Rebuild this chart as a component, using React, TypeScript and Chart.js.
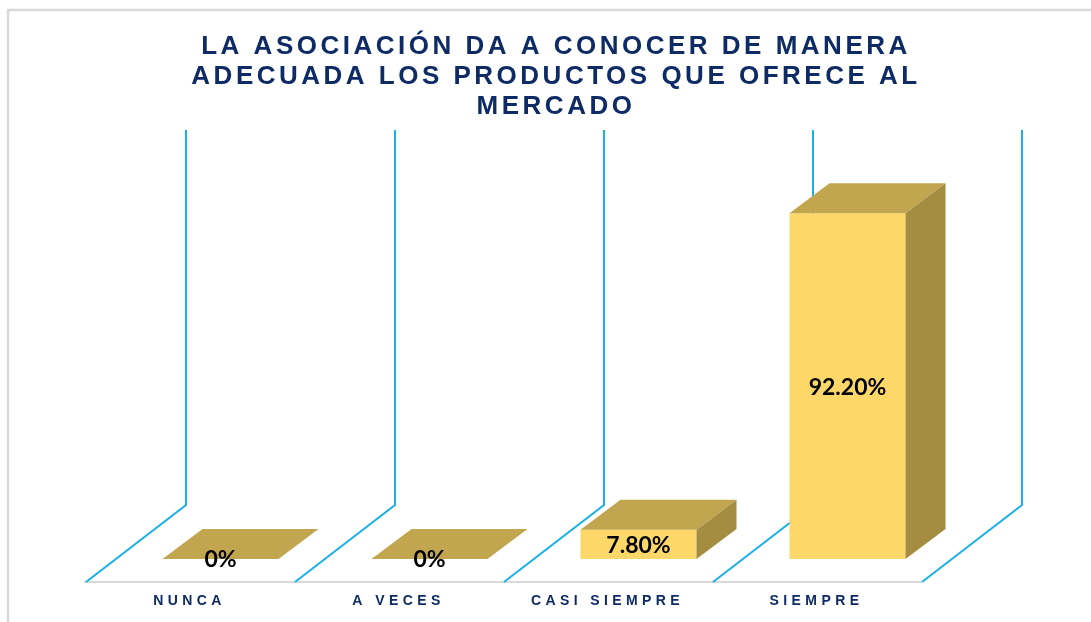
import React, { useEffect, useRef } from "react";
import { Chart, registerables } from "chart.js";

Chart.register(...registerables);

const titleLines = [
  "LA ASOCIACIÓN DA A CONOCER DE MANERA",
  "ADECUADA LOS PRODUCTOS QUE OFRECE AL",
  "MERCADO",
];
const categories = ["NUNCA", "A VECES", "CASI SIEMPRE", "SIEMPRE"];
const values = [0, 0, 7.8, 92.2];
const valueLabels = ["0%", "0%", "7.80%", "92.20%"];

const FRONT = "#FDD868";
const TOP = "#C2A64F";
const SIDE = "#A48C40";
const GRID = "#1AB0EC";
const NAVY = "#0E2B66";

// depth geometry (pixels)
const WALL_DX = 70, WALL_DY = -54; // bar plane -> back wall
const FLOOR_DX = -30, FLOOR_DY = 23; // bar plane -> floor front edge
const BAR_DX = 40, BAR_DY = -30; // bar depth

const threeD = {
  id: "threeD",
  beforeDraw(chart: any) {
    const { ctx, width, height } = chart;
    ctx.save();
    ctx.fillStyle = "#ffffff";
    ctx.fillRect(0, 0, width, height);
    ctx.strokeStyle = "#D9D9D9";
    ctx.lineWidth = 2.5;
    ctx.strokeRect(8, 10, width + 20, height + 20);
    ctx.restore();
  },
  beforeDatasetsDraw(chart: any) {
    const { ctx, chartArea } = chart;
    const n = categories.length;
    const step = (chartArea.right - chartArea.left) / n;
    const base = chartArea.bottom;
    const top = chartArea.top;
    ctx.save();
    ctx.strokeStyle = "#D9D9D9";
    ctx.lineWidth = 2;
    ctx.beginPath();
    ctx.moveTo(chartArea.left + FLOOR_DX - 2, base + FLOOR_DY);
    ctx.lineTo(chartArea.right + FLOOR_DX, base + FLOOR_DY);
    ctx.stroke();
    ctx.strokeStyle = GRID;
    ctx.lineWidth = 2;
    for (let i = 0; i <= n; i++) {
      const ex = chartArea.left + i * step;
      ctx.beginPath();
      ctx.moveTo(ex + WALL_DX, top + WALL_DY);
      ctx.lineTo(ex + WALL_DX, base + WALL_DY);
      ctx.lineTo(ex + FLOOR_DX, base + FLOOR_DY);
      ctx.stroke();
    }
    ctx.restore();
  },
  afterDatasetsDraw(chart: any) {
    const { ctx, chartArea } = chart;
    const meta = chart.getDatasetMeta(0);
    ctx.save();
    meta.data.forEach((bar: any, i: number) => {
      const p = bar.getProps(["x", "y", "base", "width"], true);
      const l = p.x - p.width / 2;
      const r = p.x + p.width / 2;
      const y = p.y;
      const b = p.base;
      ctx.fillStyle = TOP;
      ctx.beginPath();
      ctx.moveTo(l, y);
      ctx.lineTo(l + BAR_DX, y + BAR_DY);
      ctx.lineTo(r + BAR_DX, y + BAR_DY);
      ctx.lineTo(r, y);
      ctx.closePath();
      ctx.fill();
      if (b - y > 0.5) {
        ctx.fillStyle = SIDE;
        ctx.beginPath();
        ctx.moveTo(r, y);
        ctx.lineTo(r + BAR_DX, y + BAR_DY);
        ctx.lineTo(r + BAR_DX, b + BAR_DY);
        ctx.lineTo(r, b);
        ctx.closePath();
        ctx.fill();
      }
      ctx.fillStyle = "#000000";
      ctx.font = "bold 23px Lato, 'Liberation Sans', sans-serif";
      ctx.textAlign = "center";
      ctx.textBaseline = "middle";
      ctx.fillText(valueLabels[i], p.x, (y + b) / 2 + 1);
    });
    // category labels
    ctx.font = "bold 14px 'Liberation Sans', Arial, sans-serif";
    (ctx as any).letterSpacing = "4.4px";
    ctx.fillStyle = NAVY;
    ctx.textAlign = "center";
    ctx.textBaseline = "middle";
    meta.data.forEach((bar: any, i: number) => {
      ctx.fillText(categories[i], bar.x + FLOOR_DX - 1, chartArea.bottom + 42);
    });
    // title
    ctx.font = "bold 26px 'Liberation Sans', Arial, sans-serif";
    (ctx as any).letterSpacing = "3.5px";
    ctx.fillStyle = NAVY;
    titleLines.forEach((t, i) => {
      ctx.fillText(t, 556, 47 + i * 30);
    });
    ctx.restore();
  },
};

export default function App() {
  const ref = useRef<HTMLCanvasElement>(null);
  useEffect(() => {
    if (!ref.current) return;
    const chart = new Chart(ref.current, {
      type: "bar",
      data: {
        labels: categories,
        datasets: [
          {
            data: values,
            backgroundColor: FRONT,
            borderWidth: 0,
            categoryPercentage: 1,
            barPercentage: 0.555,
          },
        ],
      },
      options: {
        animation: false,
        responsive: true,
        maintainAspectRatio: false,
        layout: { padding: { left: 116, right: 139, top: 184, bottom: 63 } },
        scales: {
          x: { display: false, offset: true, grid: { display: false } },
          y: { display: false, min: 0, max: 100 },
        },
        plugins: {
          legend: { display: false },
          tooltip: { enabled: false },
          title: { display: false },
        },
      },
      plugins: [threeD],
    });
    return () => chart.destroy();
  }, []);
  return (
    <div style={{ position: "fixed", left: 0, top: 0, width: 1091, height: 622 }}>
      <canvas ref={ref} />
    </div>
  );
}
